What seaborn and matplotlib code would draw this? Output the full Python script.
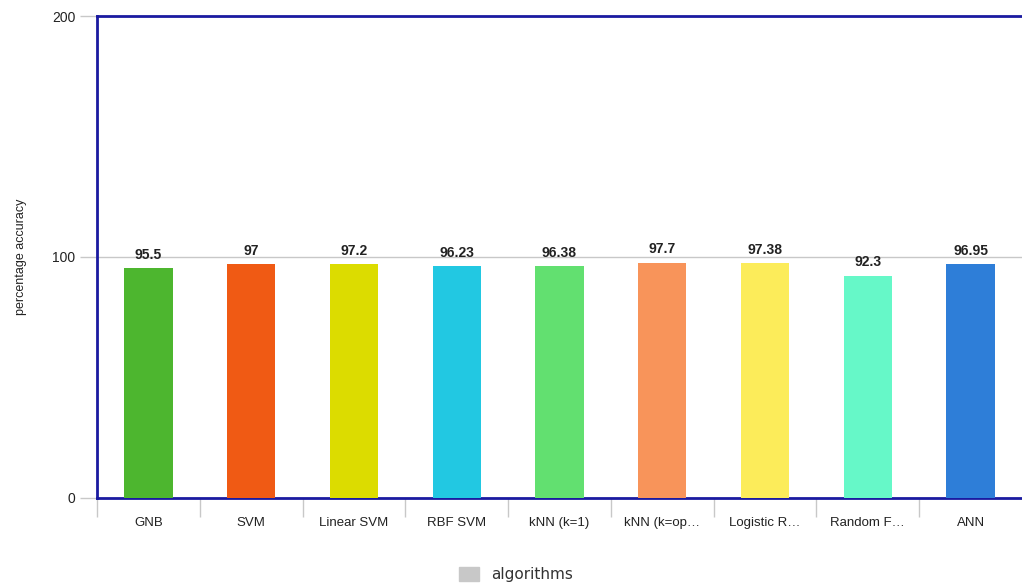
import pandas as pd
import matplotlib.pyplot as plt
import matplotlib.patches as mpatches
import seaborn as sns

algorithms = ["GNB", "SVM", "Linear SVM", "RBF SVM", "kNN (k=1)", "kNN (k=op…",
              "Logistic R…", "Random F…", "ANN"]
accuracy = [95.5, 97, 97.2, 96.23, 96.38, 97.7, 97.38, 92.3, 96.95]
value_labels = ["95.5", "97", "97.2", "96.23", "96.38", "97.7", "97.38", "92.3", "96.95"]
bar_colors = ["#4db62f", "#f05a14", "#dcdc00", "#22c8e2", "#62e070", "#f8945a",
              "#fcec5a", "#66f8c8", "#2e7ed8"]

df = pd.DataFrame({"algorithm": algorithms, "accuracy": accuracy})

sns.set_style("white")
plt.rcParams['font.family'] = ['Liberation Sans', 'DejaVu Sans']

fig = plt.figure(figsize=(10.22, 5.85), dpi=100)
ax = fig.add_axes([0.0949, 0.149, 0.9051, 0.8235])

sns.barplot(data=df, x="algorithm", y="accuracy", hue="algorithm",
            palette=bar_colors, legend=False, width=0.47, saturation=1,
            linewidth=0, ax=ax, zorder=3)

ax.set_ylim(0, 200)
ax.set_xlim(-0.5, len(algorithms) - 0.5)
ax.set_yticks([0, 100, 200])
ax.axhline(100, color="#c8c8c8", lw=1, zorder=1)

for i, (v, lab) in enumerate(zip(accuracy, value_labels)):
    ax.text(i, v + 2.5, lab, ha="center", va="bottom", fontsize=10,
            fontweight="bold", color="#222222")

for s in ["left", "top", "bottom"]:
    ax.spines[s].set_color("#1a1aa0")
    ax.spines[s].set_linewidth(2)
ax.spines["right"].set_visible(False)

# separators between categories below the axis
ax.set_xticks([i - 0.5 for i in range(len(algorithms))], minor=False)
ax.set_xticklabels([])
ax.tick_params(axis="x", which="major", bottom=True, length=14, color="#c8c8c8",
               width=1, direction="out")
ax.set_xticks(range(len(algorithms)), minor=True)
ax.set_xticklabels(algorithms, minor=True, fontsize=9.5, color="#222222")
ax.tick_params(axis="x", which="minor", bottom=True, length=0, pad=14)
ax.tick_params(axis="y", length=12, color="#c8c8c8", width=1, labelsize=10,
               labelcolor="#222222", left=True)

ax.set_xlabel("")
ax.set_ylabel("percentage accuracy", fontsize=9, color="#222222", labelpad=18)

handle = mpatches.Patch(color="#c8c8c8", label="algorithms")
fig.legend(handles=[handle], loc="center", bbox_to_anchor=(0.505, 0.018),
           frameon=False, handlelength=1.3, handleheight=1.1,
           labelcolor="#333333", prop={"family": "DejaVu Sans", "size": 11})

fig.savefig("out.png", dpi=100)
